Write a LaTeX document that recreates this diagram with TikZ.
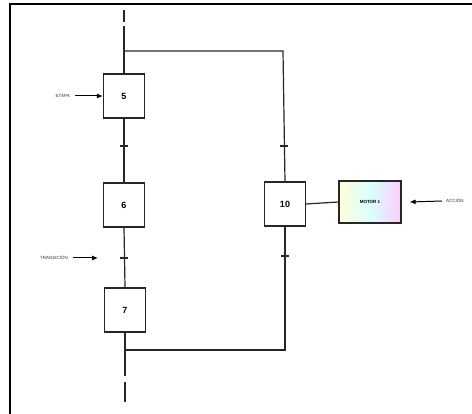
\documentclass[tikz,border=0pt]{standalone}
\usepackage{fontspec}
\setmainfont{Liberation Sans}
\usetikzlibrary{arrows.meta,calc}
\begin{document}
\begin{tikzpicture}[x=1pt,y=-1pt,
  stepbox/.style={draw=black!85,line width=1.1pt,fill=white,minimum width=41pt,minimum height=44pt,inner sep=0pt,font=\fontsize{9}{10}\selectfont\bfseries},
  actbox/.style={draw=black!85,line width=1.1pt,minimum width=62pt,minimum height=42pt,inner sep=0pt,font=\fontsize{4.5}{5}\selectfont\bfseries,
     left color=yellow!15,right color=magenta!20,middle color=cyan!15},
  wire/.style={draw=black!85,line width=1.2pt},
  tick/.style={draw=black!85,line width=1.2pt},
  lbl/.style={font=\fontsize{4.5}{5}\selectfont,inner sep=0pt,text=black!80},
  arr/.style={draw=black,line width=1pt,-{Latex[length=6pt,width=5pt]}}]
\useasboundingbox (0,0) rectangle (472,414);
% frame
\draw[line width=1.6pt] (10,414) -- (10,4) -- (472,4);
% steps
\node[stepbox] (s5) at (124,96) {5};
\node[stepbox] (s6) at (124,205) {6};
\node[stepbox] (s7) at (125,310) {7};
\node[stepbox] (s10) at (285,204) {10};
\node[actbox] (m1) at (370,202) {MOTOR 1};
% coordinates
\coordinate (ttop) at (124,10);
\coordinate (tgap1) at (124,22);
\coordinate (tgap2) at (124,26);
\coordinate (jl) at (124,51);
\coordinate (jr) at (283,51);
\coordinate (bl) at (125,350);
\coordinate (br) at (285,350);
\coordinate (bgap1) at (125,376);
\coordinate (bgap2) at (125,382);
\coordinate (bend) at (125,402);
% left main line
\draw[wire] (ttop) -- (tgap1);
\draw[wire] (tgap2) -- (jl) -- (s5.north);
\draw[wire] (s5.south) -- (s6.north);
\draw[wire] (s6.south) -- (s7.north);
\draw[wire] (s7.south) -- (bl) -- (bgap1);
\draw[wire] (bgap2) -- (bend);
% right branch
\draw[wire] (jl) -- (jr) -- (s10.north);
\draw[wire] (s10.south) -- (br) -- (bl);
\draw[wire] (s10.east) -- (m1.west);
% transitions
\coordinate (t1) at (124,146);
\coordinate (t2) at (124,258);
\coordinate (t3) at (284,146);
\coordinate (t4) at (285,256);
\foreach \t in {t1,t2,t3,t4}{\draw[tick] ($(\t)+(-4,0)$) -- ($(\t)+(4,0)$);}
% labels
\node[lbl,anchor=east] (etapa) at (70,96) {ETAPA};
\draw[arr] ($(etapa.east)+(5,0)$) -- (s5.west);
\node[lbl,anchor=east] (trans) at (68,258) {TRANSICIÓN};
\coordinate (ta) at (98,258);
\draw[arr] ($(trans.east)+(5,0)$) -- (ta);
\node[lbl,anchor=west] (acc) at (446,201) {ACCIÓN};
\draw[arr] ($(acc.west)+(-4,0)$) -- ($(m1.east)+(8,0)$);
\end{tikzpicture}
\end{document}
